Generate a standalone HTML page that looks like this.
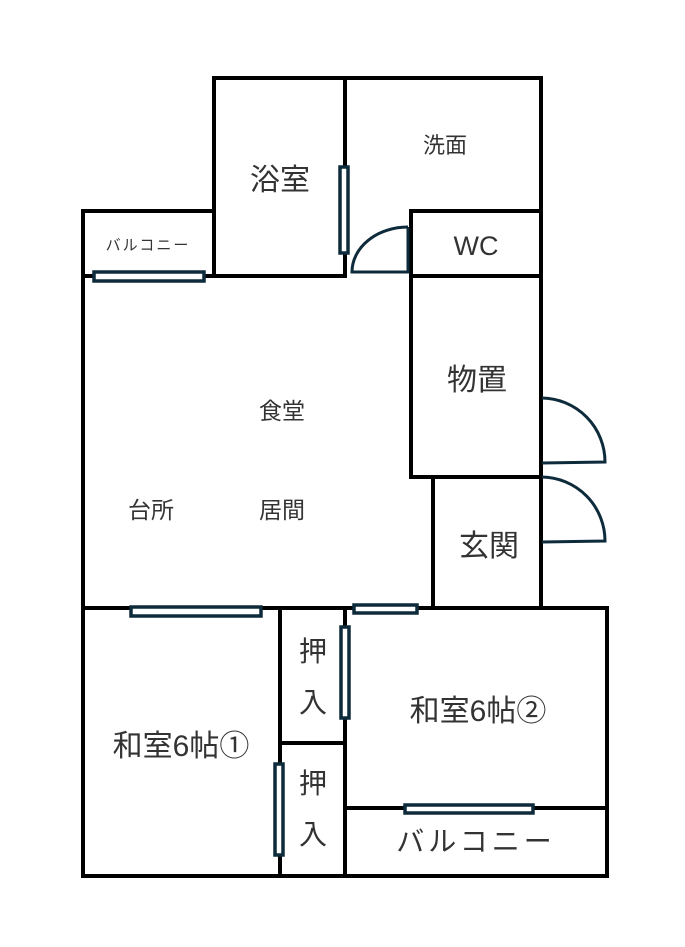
<!DOCTYPE html>
<html><head><meta charset="utf-8"><style>
html,body{margin:0;padding:0;background:#fff;}
svg{display:block;}
text{font-family:"Liberation Sans","Noto Sans CJK JP",sans-serif;fill:#333;}
</style></head><body>
<svg width="685" height="947" viewBox="0 0 685 947" xmlns="http://www.w3.org/2000/svg">
<g stroke="#000" stroke-width="4" fill="none" stroke-linecap="square">
<line x1="83" y1="211" x2="83" y2="876"/>
<line x1="83" y1="876" x2="607" y2="876"/>
<line x1="607" y1="608" x2="607" y2="876"/>
<line x1="83" y1="608" x2="607" y2="608"/>
<line x1="83" y1="211" x2="214" y2="211"/>
<line x1="214" y1="78" x2="214" y2="276"/>
<line x1="214" y1="78" x2="541" y2="78"/>
<line x1="345" y1="78" x2="345" y2="276"/>
<line x1="83" y1="276" x2="345" y2="276"/>
<line x1="541" y1="78" x2="541" y2="608"/>
<line x1="411" y1="211" x2="411" y2="477"/>
<line x1="411" y1="211" x2="541" y2="211"/>
<line x1="411" y1="276" x2="541" y2="276"/>
<line x1="411" y1="477" x2="541" y2="477"/>
<line x1="433" y1="477" x2="433" y2="608"/>
<line x1="280" y1="608" x2="280" y2="876"/>
<line x1="345" y1="608" x2="345" y2="876"/>
<line x1="280" y1="743" x2="345" y2="743"/>
<line x1="345" y1="808" x2="607" y2="808"/>
</g>
<g stroke="#0d2b3a" stroke-width="3" fill="none">
<path d="M408 227 L408 272 L352 272 A56 45 0 0 1 408 227"/>
<path d="M542 398 A64 64 0 0 1 605 462 L542 463"/>
<path d="M542 477 A64 64 0 0 1 605 541 L542 542"/>
</g>
<g stroke="#0d2b3a" stroke-width="3.5" fill="#fff">
<rect x="340" y="167" width="8" height="86"/>
<rect x="94" y="272" width="110" height="9"/>
<rect x="131" y="607" width="130" height="9"/>
<rect x="354" y="605" width="63" height="8"/>
<rect x="341" y="627" width="8" height="91"/>
<rect x="275" y="764" width="8" height="91"/>
<rect x="405" y="805" width="128" height="8"/>
</g>
<g text-anchor="middle">
<text x="280" y="190" font-size="30">浴室</text>
<text x="445" y="153" font-size="22">洗面</text>
<text x="148" y="250" font-size="15" letter-spacing="2">バルコニー</text>
<text x="476" y="255" font-size="27" fill="#000">WC</text>
<text x="477" y="390" font-size="30">物置</text>
<text x="282" y="419" font-size="23">食堂</text>
<text x="151" y="518" font-size="23">台所</text>
<text x="282" y="518" font-size="23">居間</text>
<text x="489" y="556" font-size="30">玄関</text>
<text x="313" y="661" font-size="28">押</text>
<text x="313" y="712" font-size="28">入</text>
<text x="313" y="793" font-size="28">押</text>
<text x="313" y="844" font-size="28">入</text>
<text x="181" y="756" font-size="30">和室6帖①</text>
<text x="478" y="721" font-size="30">和室6帖②</text>
<text x="476" y="851" font-size="28" letter-spacing="4">バルコニー</text>
</g>
</svg>
</body></html>
